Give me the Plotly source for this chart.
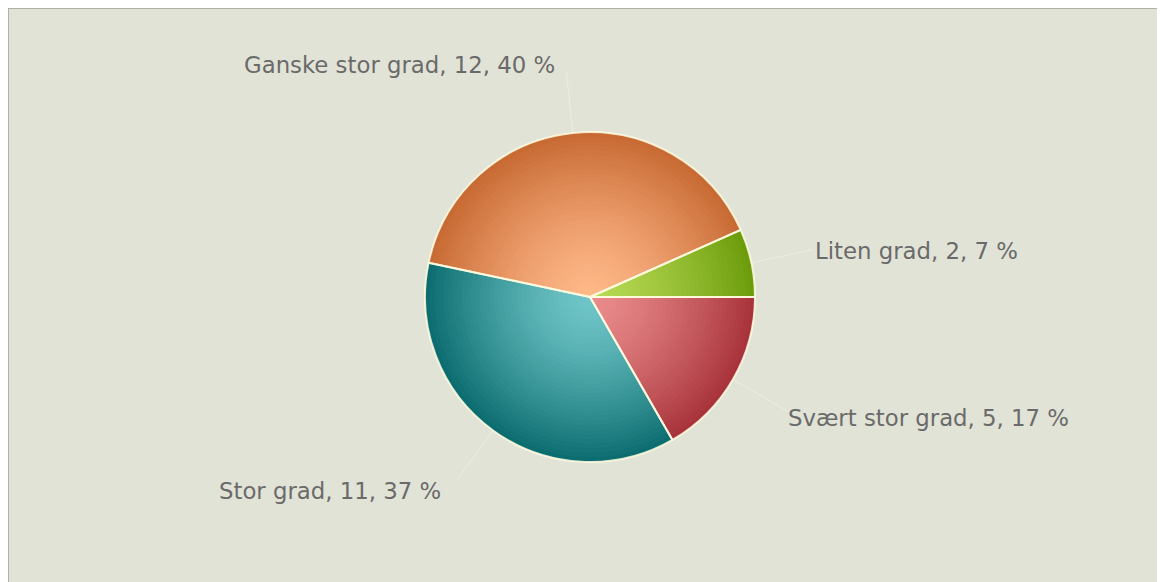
import math
import plotly.graph_objects as go

# ---- data ----
labels = ["Svært stor grad", "Stor grad", "Ganske stor grad", "Liten grad"]
values = [5, 11, 12, 2]
outer_colors = ["#a8333a", "#0c6d70", "#c86a34", "#6c9c0c"]
inner_colors = ["#ea8c8c", "#70c6c8", "#ffb888", "#b8da55"]

W, H = 1165, 582
OFF = 8  # page body margin in the browser
CX, CY, R = 590 - OFF, 297 - OFF, 165  # pixel geometry of the pie (figure coords)
N_LAYERS = 36


def hex2rgb(h):
    h = h.lstrip("#")
    return [int(h[i:i + 2], 16) for i in (0, 2, 4)]


def mix(c_in, c_out, t):
    a, b = hex2rgb(c_in), hex2rgb(c_out)
    return "rgb(%d,%d,%d)" % tuple(round(a[i] + (b[i] - a[i]) * t) for i in range(3))


fig = go.Figure()

# concentric layers simulate a radial gradient
for k in range(N_LAYERS):
    r = 1 - k / N_LAYERS
    t = r ** 1.4
    cols = [mix(ci, co, t) for ci, co in zip(inner_colors, outer_colors)]
    rx = r * R / W
    ry = r * R / H
    fig.add_trace(go.Pie(
        labels=labels, values=values, sort=False, direction="clockwise",
        rotation=90, textinfo="none", hoverinfo="skip", showlegend=False,
        marker=dict(colors=cols, line=dict(width=0)),
        domain=dict(x=[CX / W - rx, CX / W + rx], y=[1 - CY / H - ry, 1 - CY / H + ry]),
    ))

# border overlay
fig.add_trace(go.Pie(
    labels=labels, values=values, sort=False, direction="clockwise",
    rotation=90, textinfo="none", hoverinfo="label+value+percent", showlegend=False,
    marker=dict(colors=["rgba(0,0,0,0)"] * len(values),
                line=dict(color="rgba(255,252,225,0.85)", width=2)),
    domain=dict(x=[(CX - R) / W, (CX + R) / W], y=[1 - (CY + R) / H, 1 - (CY - R) / H]),
))

shapes = [dict(type="rect", xref="paper", yref="paper",
               x0=0, x1=1.02, y0=-0.02, y1=1,
               fillcolor="#e2e3d7", line=dict(color="#b0b0a8", width=2), layer="below")]
annotations = []
total = sum(values)
cum = 0
for lab, v in zip(labels, values):
    mid = (cum + v / 2) / total * 2 * math.pi  # clockwise from 3 o'clock
    cum += v
    c, s = math.cos(mid), math.sin(mid)
    ex, ey = CX + R * c, CY + R * s
    dist = 1.43 * R
    lx, ly = CX + dist * c - 8, CY + dist * s + 3
    shapes.append(dict(type="line", xref="paper", yref="paper",
                       x0=ex / W, y0=1 - ey / H, x1=(CX + 1.38 * R * c) / W, y1=1 - (CY + 1.38 * R * s) / H,
                       line=dict(color="rgba(255,255,255,0.35)", width=1)))
    pct = round(v / total * 100)
    annotations.append(dict(
        xref="paper", yref="paper", x=lx / W, y=1 - ly / H,
        text=f"{lab}, {v}, {pct} %", showarrow=False,
        xanchor="left" if c >= 0 else "right", yanchor="middle",
        font=dict(family="DejaVu Sans, Verdana, sans-serif", size=22.8, color="#6a6a6a"),
    ))

fig.update_layout(
    width=W, height=H, margin=dict(l=0, r=0, t=0, b=0),
    paper_bgcolor="white", plot_bgcolor="white",
    shapes=shapes, annotations=annotations,
)

fig.write_html("out.html")
